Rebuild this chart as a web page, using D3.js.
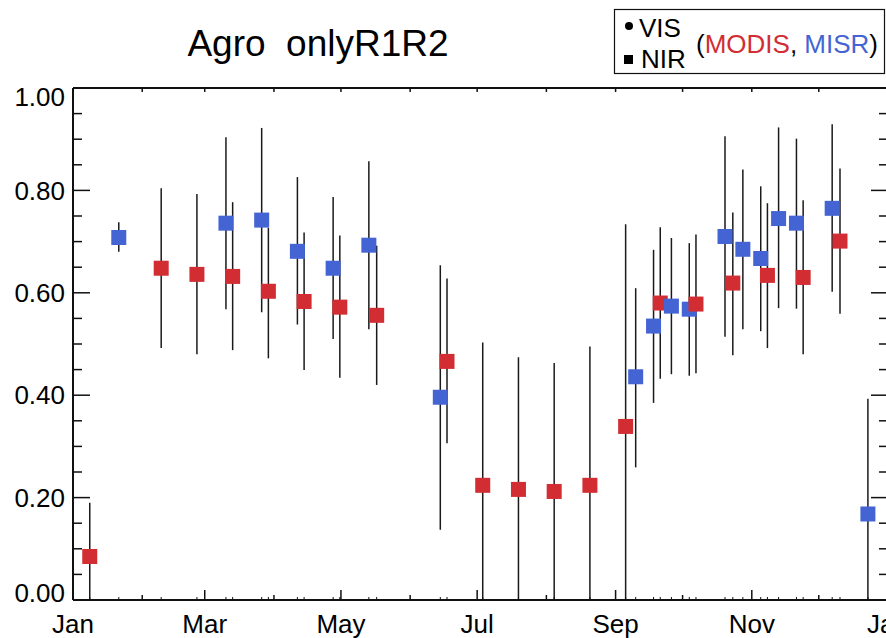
<!DOCTYPE html>
<html>
<head>
<meta charset="utf-8">
<script src="https://cdn.jsdelivr.net/npm/d3@7"></script>
<style>
  body { margin: 0; background: #fff; }
  svg { display: block; font-family: "Liberation Sans", Arial, Helvetica, sans-serif; }
  .pre { white-space: pre; }
</style>
</head>
<body>
<svg id="chart" width="886" height="638"></svg>
<script>
// ---- data ----
const title = "Agro  onlyR1R2";
const monthStarts = [0, 31, 59, 90, 120, 151, 181, 212, 243, 273, 304, 334, 365];
const monthLabels = ["Jan", "", "Mar", "", "May", "", "Jul", "", "Sep", "", "Nov", "", "Jan"];
const yTickValues = [0, 0.2, 0.4, 0.6, 0.8, 1.0];
const yTickLabels = ["0.00", "0.20", "0.40", "0.60", "0.80", "1.00"];

// MODIS (red) — day of year, value, low, high
const modisDay  = [7.5, 39.5, 55.5, 71.5, 87.5, 103.5, 119.5, 136, 167.5, 183.5, 199.5, 215.5, 231.5, 247.5, 263, 279, 295.5, 311, 327, 343.5];
const modisVal  = [0.085, 0.648, 0.636, 0.632, 0.603, 0.583, 0.572, 0.556, 0.466, 0.224, 0.216, 0.212, 0.224, 0.339, 0.580, 0.578, 0.619, 0.634, 0.630, 0.701];
const modisLow  = [-0.02, 0.492, 0.480, 0.488, 0.472, 0.449, 0.434, 0.420, 0.306, -0.055, -0.042, -0.039, -0.047, -0.056, 0.432, 0.443, 0.478, 0.492, 0.480, 0.559];
const modisHigh = [0.190, 0.804, 0.793, 0.777, 0.727, 0.718, 0.712, 0.692, 0.628, 0.503, 0.474, 0.463, 0.495, 0.734, 0.728, 0.714, 0.757, 0.775, 0.781, 0.843];

// MISR (blue)
const misrDay  = [20.5, 68.5, 84.5, 100.5, 116.5, 132.5, 164.5, 252, 260, 268, 276, 292, 300, 308, 316, 324, 340, 356];
const misrVal  = [0.708, 0.736, 0.742, 0.681, 0.648, 0.693, 0.396, 0.436, 0.535, 0.574, 0.568, 0.710, 0.685, 0.667, 0.745, 0.736, 0.765, 0.168];
const misrLow  = [0.680, 0.568, 0.562, 0.538, 0.510, 0.529, 0.137, 0.259, 0.385, 0.441, 0.438, 0.514, 0.529, 0.525, 0.570, 0.569, 0.602, -0.057];
const misrHigh = [0.738, 0.904, 0.922, 0.826, 0.787, 0.857, 0.654, 0.609, 0.684, 0.707, 0.697, 0.906, 0.841, 0.808, 0.923, 0.901, 0.929, 0.393];

const colors = { MODIS: "#d12d33", MISR: "#4464d4" };

// ---- layout ----
const svg = d3.select("#chart");
const pLeft = 73, pRight = 888, pTop = 88, pBottom = 600;
const x = d3.scaleLinear().domain([0, 365]).range([pLeft, pRight]);
const y = d3.scaleLinear().domain([0, 1]).range([pBottom, pTop]);
const axisColor = "#111";

// points combined, drawn in chronological order
const points = [];
modisDay.forEach((d, i) => points.push({ day: d, v: modisVal[i], lo: modisLow[i], hi: modisHigh[i], s: "MODIS" }));
misrDay.forEach((d, i) => points.push({ day: d, v: misrVal[i], lo: misrLow[i], hi: misrHigh[i], s: "MISR" }));
points.sort((a, b) => a.day - b.day);

svg.append("defs").append("clipPath").attr("id", "plotclip")
  .append("rect").attr("x", pLeft).attr("y", pTop).attr("width", pRight - pLeft).attr("height", pBottom - pTop);

const plot = svg.append("g").attr("clip-path", "url(#plotclip)");

// error bars
plot.selectAll("line.err").data(points).join("line")
  .attr("class", "err")
  .attr("x1", d => x(d.day)).attr("x2", d => x(d.day))
  .attr("y1", d => y(d.lo)).attr("y2", d => y(d.hi))
  .attr("stroke", "#1a1a1a").attr("stroke-width", 1.5);

// squares
const sq = 15;
plot.selectAll("rect.pt").data(points).join("rect")
  .attr("class", "pt")
  .attr("x", d => x(d.day) - sq / 2).attr("y", d => y(d.v) - sq / 2)
  .attr("width", sq).attr("height", sq)
  .attr("fill", d => colors[d.s]);

// ---- axes ----
const ax = svg.append("g").attr("stroke", axisColor);
// frame
ax.append("line").attr("x1", pLeft).attr("x2", pRight).attr("y1", pBottom).attr("y2", pBottom).attr("stroke-width", 2);
ax.append("line").attr("x1", pLeft).attr("x2", pRight).attr("y1", pTop).attr("y2", pTop).attr("stroke-width", 2);
ax.append("line").attr("x1", pLeft).attr("x2", pLeft).attr("y1", pTop).attr("y2", pBottom).attr("stroke-width", 2);
ax.append("line").attr("x1", pRight).attr("x2", pRight).attr("y1", pTop).attr("y2", pBottom).attr("stroke-width", 2);

// y ticks (minor every 0.05, major every 0.2)
const yMinor = d3.range(0, 21).map(i => i * 0.05);
yMinor.forEach((v, i) => {
  const major = i % 4 === 0;
  const len = major ? 17 : 9;
  ax.append("line").attr("x1", pLeft).attr("x2", pLeft + len).attr("y1", y(v)).attr("y2", y(v)).attr("stroke-width", 1.5);
  ax.append("line").attr("x1", pRight).attr("x2", pRight - len).attr("y1", y(v)).attr("y2", y(v)).attr("stroke-width", 1.5);
});

// y labels
yTickValues.forEach((v, i) => {
  let yy = y(v);
  if (i === 0) yy -= 7;
  if (i === yTickValues.length - 1) yy += 9;
  svg.append("text").attr("x", 65).attr("y", yy).attr("dy", "0.35em")
    .attr("text-anchor", "end").attr("font-size", 26).attr("fill", "#000")
    .text(yTickLabels[i]);
});

// x ticks: months
monthStarts.forEach((d, i) => {
  const major = monthLabels[i] !== "";
  const len = major ? 10 : 5;
  ax.append("line").attr("x1", x(d)).attr("x2", x(d)).attr("y1", pBottom).attr("y2", pBottom - len).attr("stroke-width", 1.5);
  ax.append("line").attr("x1", x(d)).attr("x2", x(d)).attr("y1", pTop).attr("y2", pTop + 4).attr("stroke-width", 1.5);
  if (major) {
    svg.append("text").attr("x", x(d)).attr("y", 633)
      .attr("text-anchor", "middle").attr("font-size", 26).attr("fill", "#000")
      .text(monthLabels[i]);
  }
});
// small ticks at data positions
points.forEach(p => {
  ax.append("line").attr("x1", x(p.day)).attr("x2", x(p.day)).attr("y1", pBottom).attr("y2", pBottom - 3).attr("stroke-width", 1);
});

// title
svg.append("text").attr("class", "pre").attr("x", 318).attr("y", 56).attr("text-anchor", "middle")
  .attr("font-size", 37).attr("fill", "#000").text(title);

// legend
const lg = svg.append("g");
lg.append("rect").attr("x", 614.5).attr("y", 9.5).attr("width", 270).attr("height", 64)
  .attr("fill", "#fff").attr("stroke", "#111").attr("stroke-width", 1.2);
lg.append("circle").attr("cx", 629).attr("cy", 26).attr("r", 4).attr("fill", "#000");
lg.append("rect").attr("x", 624).attr("y", 55).attr("width", 9).attr("height", 9).attr("fill", "#000");
lg.append("text").attr("x", 639).attr("y", 37).attr("font-size", 26).attr("fill", "#000").text("VIS");
lg.append("text").attr("x", 641).attr("y", 68).attr("font-size", 26).attr("fill", "#000").text("NIR");
const lt = lg.append("text").attr("class", "pre").attr("x", 696).attr("y", 53).attr("font-size", 26).attr("fill", "#000");
lt.append("tspan").text("(");
lt.append("tspan").attr("fill", colors.MODIS).text("MODIS");
lt.append("tspan").text(", ");
lt.append("tspan").attr("fill", colors.MISR).text("MISR");
lt.append("tspan").text(")");
</script>
</body>
</html>
